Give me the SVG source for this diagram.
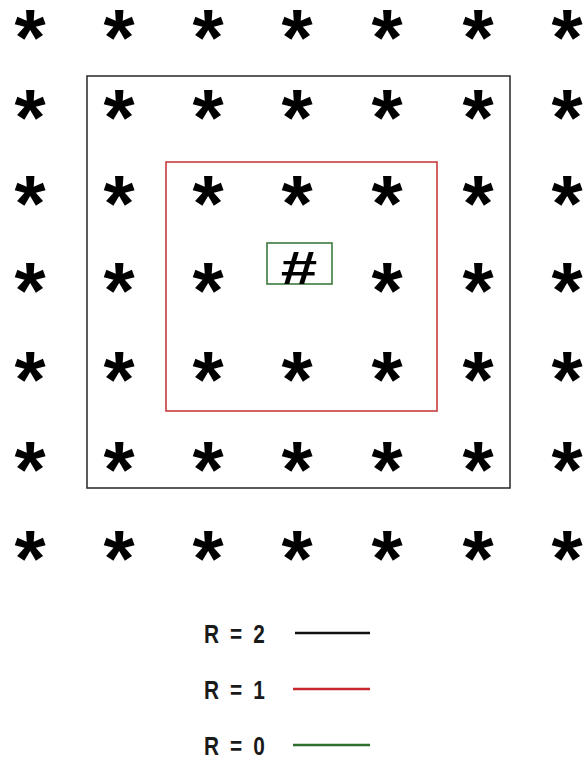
<svg xmlns="http://www.w3.org/2000/svg" width="586" height="760" viewBox="0 0 586 760">
<style>
.s{font-family:"Liberation Sans",Arial,sans-serif;font-weight:bold;font-size:80px;text-anchor:middle;fill:#000}
.h{font-family:"Liberation Sans",Arial,sans-serif;font-weight:bold;font-size:47px;text-anchor:middle;fill:#000}
.l{font-family:"Liberation Sans",Arial,sans-serif;font-weight:bold;font-size:26px;fill:#1a1a1a}
</style>
<rect width="586" height="760" fill="#fff"/>
<g id="regions" fill="none" stroke-width="1.6">
<rect id="r2" x="87" y="76" width="423" height="412" stroke="#333"/>
<rect id="r1" x="166" y="162" width="271" height="249" stroke="#c83c3c"/>
<rect id="r0" x="267" y="243" width="65" height="41" stroke="#3d7a3d"/>
</g>
<g id="stars">
<g id="row1" transform="translate(0,24)">
<text class="s" x="30" y="41">*</text><text class="s" x="119" y="41">*</text><text class="s" x="208" y="41">*</text><text class="s" x="297" y="41">*</text><text class="s" x="387" y="41">*</text><text class="s" x="478" y="41">*</text><text class="s" x="567" y="41">*</text>
</g>
<g id="row2" transform="translate(0,104)">
<text class="s" x="30" y="41">*</text><text class="s" x="119" y="41">*</text><text class="s" x="208" y="41">*</text><text class="s" x="297" y="41">*</text><text class="s" x="387" y="41">*</text><text class="s" x="478" y="41">*</text><text class="s" x="567" y="41">*</text>
</g>
<g id="row3" transform="translate(0,190)">
<text class="s" x="30" y="41">*</text><text class="s" x="119" y="41">*</text><text class="s" x="208" y="41">*</text><text class="s" x="297" y="41">*</text><text class="s" x="387" y="41">*</text><text class="s" x="478" y="41">*</text><text class="s" x="567" y="41">*</text>
</g>
<g id="row4" transform="translate(0,277)">
<text class="s" x="30" y="41">*</text><text class="s" x="119" y="41">*</text><text class="s" x="208" y="41">*</text><text class="s" x="387" y="41">*</text><text class="s" x="478" y="41">*</text><text class="s" x="567" y="41">*</text>
</g>
<g id="row5" transform="translate(0,366)">
<text class="s" x="30" y="41">*</text><text class="s" x="119" y="41">*</text><text class="s" x="208" y="41">*</text><text class="s" x="297" y="41">*</text><text class="s" x="387" y="41">*</text><text class="s" x="478" y="41">*</text><text class="s" x="567" y="41">*</text>
</g>
<g id="row6" transform="translate(0,456)">
<text class="s" x="30" y="41">*</text><text class="s" x="119" y="41">*</text><text class="s" x="208" y="41">*</text><text class="s" x="297" y="41">*</text><text class="s" x="387" y="41">*</text><text class="s" x="478" y="41">*</text><text class="s" x="567" y="41">*</text>
</g>
<g id="row7" transform="translate(0,545)">
<text class="s" x="30" y="41">*</text><text class="s" x="119" y="41">*</text><text class="s" x="208" y="41">*</text><text class="s" x="297" y="41">*</text><text class="s" x="387" y="41">*</text><text class="s" x="478" y="41">*</text><text class="s" x="567" y="41">*</text>
</g>
</g>
<g id="center"><text class="h" transform="translate(299,284) scale(1.4,1)" x="0" y="0">#</text></g>
<g id="legend">
<text class="l" transform="translate(204,643) scale(0.8,1)" x="0" y="0" textLength="76" lengthAdjust="spacing">R = 2</text>
<line x1="295" y1="633" x2="370" y2="633" stroke="#111" stroke-width="2.6"/>
<text class="l" transform="translate(204,699) scale(0.8,1)" x="0" y="0" textLength="76" lengthAdjust="spacing">R = 1</text>
<line x1="293" y1="689" x2="370" y2="689" stroke="#c8282d" stroke-width="2.6"/>
<text class="l" transform="translate(204,755) scale(0.8,1)" x="0" y="0" textLength="76" lengthAdjust="spacing">R = 0</text>
<line x1="293" y1="745" x2="370" y2="745" stroke="#2d6e2d" stroke-width="2.6"/>
</g>
</svg>
